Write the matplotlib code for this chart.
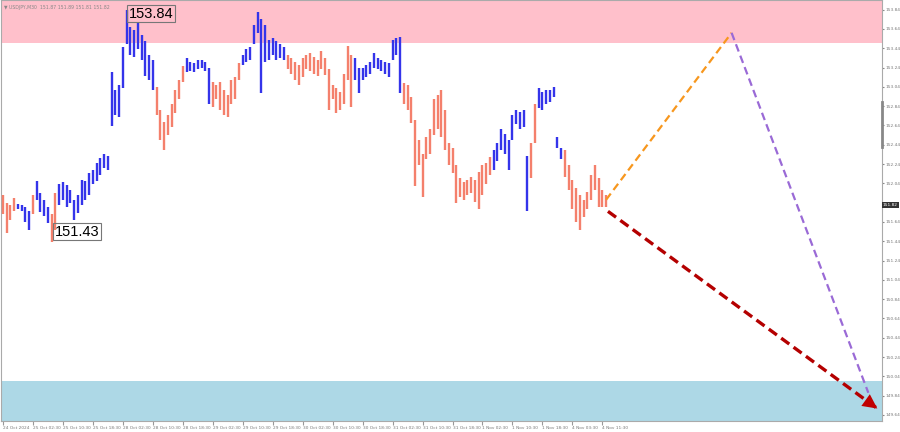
import numpy as np
import matplotlib.pyplot as plt
from matplotlib.patches import FancyArrowPatch

# USDJPY M30 bars, one drawn bar for every second bar of the chart
bar_high = [151.92, 151.84, 151.82, 151.89, 151.83, 151.82, 151.80, 151.75,
            151.92, 152.06, 151.94, 151.87, 151.80, 151.72, 151.94, 152.03,
            152.05, 152.02, 151.97, 151.87, 151.92, 152.08, 152.06, 152.15,
            152.18, 152.25, 152.30, 152.34, 152.32, 153.19, 153.01, 153.06,
            153.45, 153.84, 153.66, 153.63, 153.71, 153.58, 153.51, 153.37,
            153.32, 153.04, 152.80, 152.68, 152.75, 152.86, 153.01, 153.11,
            153.26, 153.34, 153.30, 153.29, 153.32, 153.32, 153.30, 153.24,
            153.09, 153.06, 153.09, 153.01, 152.96, 153.11, 153.14, 153.29,
            153.37, 153.43, 153.45, 153.68, 153.82, 153.74, 153.68, 153.53,
            153.55, 153.51, 153.48, 153.45, 153.37, 153.34, 153.30, 153.27,
            153.34, 153.37, 153.39, 153.35, 153.32, 153.41, 153.34, 153.22,
            153.06, 153.03, 152.99, 153.17, 153.46, 153.37, 153.34, 153.24,
            153.24, 153.27, 153.30, 153.39, 153.34, 153.32, 153.30, 153.29,
            153.53, 153.55, 153.56, 153.08, 153.06, 152.94, 152.70, 152.49,
            152.34, 152.52, 152.60, 152.91, 152.96, 153.01, 152.80, 152.46,
            152.41, 152.23, 152.10, 152.05, 152.08, 152.11, 152.08, 152.16,
            152.23, 152.25, 152.31, 152.39, 152.46, 152.60, 152.55, 152.49,
            152.75, 152.80, 152.78, 152.80, 152.32, 152.46, 152.86, 153.03,
            152.99, 153.01, 153.01, 153.04, 152.52, 152.41, 152.39, 152.23,
            152.08, 151.99, 151.92, 151.87, 151.95, 152.13, 152.23, 152.10,
            151.97, 151.92]
bar_low = [151.72, 151.53, 151.66, 151.75, 151.77, 151.75, 151.64, 151.56,
           151.72, 151.87, 151.74, 151.70, 151.63, 151.43, 151.56, 151.82,
           151.87, 151.80, 151.84, 151.66, 151.73, 151.82, 151.87, 151.92,
           152.03, 152.06, 152.13, 152.20, 152.18, 152.63, 152.75, 152.73,
           153.03, 153.48, 153.37, 153.35, 153.43, 153.32, 153.15, 153.11,
           153.01, 152.75, 152.49, 152.39, 152.54, 152.62, 152.77, 152.91,
           153.09, 153.19, 153.20, 153.19, 153.22, 153.24, 153.20, 152.86,
           152.83, 152.91, 152.80, 152.75, 152.73, 152.86, 152.91, 153.11,
           153.27, 153.30, 153.32, 153.48, 153.60, 152.98, 153.30, 153.32,
           153.37, 153.32, 153.34, 153.32, 153.22, 153.17, 153.11, 153.06,
           153.14, 153.22, 153.20, 153.17, 153.15, 153.22, 153.16, 152.80,
           152.91, 152.77, 152.80, 152.86, 153.11, 152.83, 153.11, 152.98,
           153.11, 153.14, 153.17, 153.24, 153.22, 153.20, 153.17, 153.14,
           153.32, 153.37, 152.98, 152.86, 152.80, 152.67, 152.01, 152.23,
           151.90, 152.29, 152.34, 152.54, 152.60, 152.52, 152.39, 152.23,
           152.15, 151.84, 151.90, 151.87, 151.92, 151.94, 151.85, 151.77,
           151.92, 152.03, 152.13, 152.18, 152.27, 152.39, 152.34, 152.18,
           152.49, 152.65, 152.60, 152.62, 151.75, 152.10, 152.46, 152.82,
           152.80, 152.86, 152.88, 152.93, 152.41, 152.29, 152.11, 151.97,
           151.77, 151.64, 151.56, 151.69, 151.77, 151.87, 151.97, 151.80,
           151.79, 151.79]

# wave colouring: bar index where each wave starts
wave_start = [0, 8, 16, 18, 26, 30, 82, 98, 112, 128, 152, 188, 214, 262, 282, 286, 300]
wave_up = [False, True, False, True, False, True, False, True, False, True,
           False, True, False, True, False, True, False]

tick_bars = list(range(0, 321, 16))
tick_labels = ['24 Oct 2024', '25 Oct 02:30', '25 Oct 10:30', '25 Oct 18:30',
               '28 Oct 02:30', '28 Oct 10:30', '28 Oct 18:30', '29 Oct 02:30',
               '29 Oct 10:30', '29 Oct 18:30', '30 Oct 02:30', '30 Oct 10:30',
               '30 Oct 18:30', '31 Oct 02:30', '31 Oct 10:30', '31 Oct 18:30',
               '1 Nov 02:30', '1 Nov 10:30', '1 Nov 18:30', '4 Nov 03:30',
               '4 Nov 11:30']
price_ticks = [153.84, 153.64, 153.44, 153.24, 153.04, 152.84, 152.64, 152.44,
               152.24, 152.04, 151.64, 151.44, 151.24, 151.04, 150.84, 150.64,
               150.44, 150.24, 150.04, 149.84, 149.64]

# zones and forecast
resist_zone = (153.49, 154.0)
support_zone = (149.50, 149.99)
alt_path_bars = [322, 389, 462]
alt_path_prices = [151.87, 153.60, 149.87]
main_arrow_bars = [323, 468]
main_arrow_prices = [151.75, 149.69]
last_price = 151.82
swing_high = (67, 153.80, '153.84')
swing_low = (27.5, 151.54, '151.43')

fig = plt.figure(figsize=(9, 4.32), dpi=100)
ax = fig.add_axes([0.001, 0.026, 0.979, 0.974])

ax.set_xlim(-1.1, 469.3)
ax.set_ylim(149.58, 153.94)

ax.axhspan(*resist_zone, color='#ffc0cb', lw=0, zorder=0)
ax.axhspan(*support_zone, color='#add8e6', lw=0, zorder=0)

bar_x = np.arange(len(bar_high)) * 2
colors = []
for x in bar_x:
    k = np.searchsorted(wave_start, x, side='right') - 1
    colors.append('#3434ea' if wave_up[k] else '#f4806c')
ax.vlines(bar_x, bar_low, bar_high, colors=colors, lw=1.7, zorder=3)

ax.plot(alt_path_bars[:2], alt_path_prices[:2], color='#f7971e', lw=1.6,
        ls=(0, (3.5, 2)), zorder=4)
ax.plot(alt_path_bars[1:], alt_path_prices[1:], color='#9a6ad6', lw=1.6,
        ls=(0, (3.5, 2)), zorder=4)
ax.plot(main_arrow_bars, main_arrow_prices, color='#b40000', lw=2.4,
        ls=(0, (3, 1.6)), zorder=4)
ax.add_patch(FancyArrowPatch((main_arrow_bars[1] - 10, main_arrow_prices[1] + 0.14),
                             (main_arrow_bars[1], main_arrow_prices[1]),
                             arrowstyle='-|>', mutation_scale=26,
                             color='#c00000', lw=0, zorder=5))

for x, y, s in (swing_high, swing_low):
    ax.text(x, y, s, fontsize=10.5, family='Liberation Sans', ha='left',
            va='center', zorder=6,
            bbox=dict(boxstyle='square,pad=0.12', fc='none', ec='#777777', lw=0.8))

ax.text(0.004, 0.988, '\u25bc USDJPY,M30  151.87 151.89 151.81 151.82',
        transform=ax.transAxes, fontsize=3.3, color='#888888', va='top')

ax.yaxis.tick_right()
ax.set_yticks(price_ticks)
ax.set_yticklabels(['%.2f' % p for p in price_ticks])
ax.tick_params(axis='y', labelsize=3.1, labelcolor='#777777', length=1.5,
               color='#888888', pad=1)
ax.text(1.001, last_price, '%.2f' % last_price, transform=ax.get_yaxis_transform(),
        fontsize=3.1, color='white', va='center', ha='left',
        bbox=dict(boxstyle='square,pad=0.25', fc='#333333', ec='none'))
ax.plot([1, 1], [152.88, 152.42], transform=ax.get_yaxis_transform(),
        color='#888888', lw=2, clip_on=False, zorder=6)

ax.set_xticks(tick_bars)
ax.set_xticklabels(tick_labels)
ax.tick_params(axis='x', labelsize=3.1, labelcolor='#777777', length=3,
               color='#999999', pad=1)
for lbl in ax.get_xticklabels():
    lbl.set_horizontalalignment('left')

for side in ('left', 'right', 'bottom', 'top'):
    ax.spines[side].set_color('#aaaaaa')
    ax.spines[side].set_linewidth(0.8)

fig.savefig('out.png', dpi=100)
